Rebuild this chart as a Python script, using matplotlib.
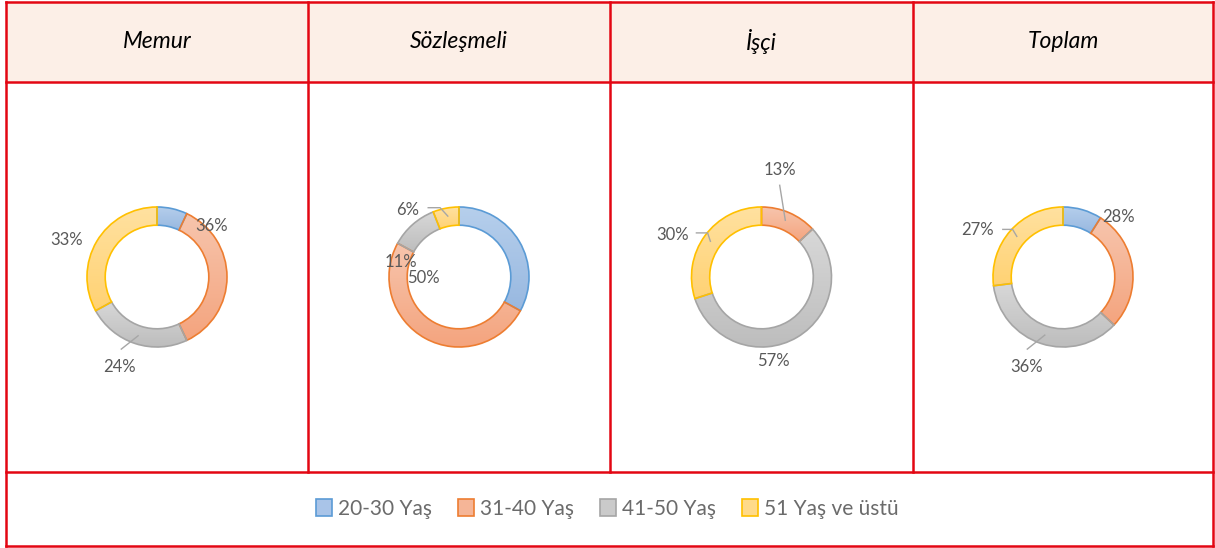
import numpy as np
import matplotlib.pyplot as plt
from matplotlib.colors import LinearSegmentedColormap
from matplotlib.patches import Patch, Rectangle

plt.rcParams['font.family'] = ['Lato', 'DejaVu Sans']

groups = ['Memur', 'Sözleşmeli', 'İşçi', 'Toplam']
ages = ['20-30 Yaş', '31-40 Yaş', '41-50 Yaş', '51 Yaş ve üstü']
memur = [7, 36, 24, 33]
sozlesmeli = [33, 50, 11, 6]
isci = [0, 13, 57, 30]
toplam = [9, 28, 36, 27]
values = [memur, sozlesmeli, isci, toplam]

fill_top = ['#b6cfec', '#f7c5ad', '#d8d8d8', '#ffe1a0']
fill_bot = ['#98b8e0', '#f4a47e', '#bdbdbd', '#ffd273']
fill_mid = ['#a9c4e8', '#f5b597', '#cacaca', '#ffda8a']
edges = ['#5b9bd5', '#ed7d31', '#a5a5a5', '#ffc000']

# label placement (radius units, donut outer radius = 1); first series is not labelled
label_pos = [
    {1: (0.78, 0.73), 2: (-0.53, -1.29), 3: (-1.29, 0.53)},
    {1: (-0.51, -0.02), 2: (-0.83, 0.21), 3: (-0.73, 0.96)},
    {1: (0.26, 1.53), 2: (0.17, -1.20), 3: (-1.27, 0.60)},
    {1: (0.79, 0.85), 2: (-0.52, -1.29), 3: (-1.22, 0.67)},
]
leaders = [
    {2: [(-0.27, -0.84), (-0.51, -1.03)]},
    {3: [(-0.44, 0.99), (-0.27, 0.99), (-0.16, 0.87)]},
    {1: [(0.26, 1.31), (0.34, 0.81)], 3: [(-0.93, 0.63), (-0.77, 0.63), (-0.73, 0.51)]},
    {2: [(-0.51, -1.03), (-0.26, -0.83)], 3: [(-0.86, 0.68), (-0.72, 0.68), (-0.66, 0.58)]},
]

W, H = 1215, 548
col_x = [6, 308, 610, 913, 1213]
row_y = [2, 82, 472, 546]
red = '#e30613'

fig = plt.figure(figsize=(W / 100, H / 100), dpi=100)
bg = fig.add_axes([0, 0, 1, 1])
bg.set_xlim(0, W)
bg.set_ylim(H, 0)
bg.axis('off')
bg.add_patch(Rectangle((col_x[0], row_y[0]), col_x[-1] - col_x[0], row_y[1] - row_y[0],
                       facecolor='#fcefe7', edgecolor='none'))
for y in row_y:
    bg.plot([col_x[0], col_x[-1]], [y, y], color=red, lw=1.8, solid_capstyle='projecting')
for i, x in enumerate(col_x):
    y_end = row_y[-1] if i in (0, len(col_x) - 1) else row_y[2]
    bg.plot([x, x], [row_y[0], y_end], color=red, lw=1.8, solid_capstyle='projecting')

r_px = 70
lim = 1.6
cy = 277
for k, name in enumerate(groups):
    cx = (col_x[k] + col_x[k + 1]) / 2
    bg.text(cx, (row_y[0] + row_y[1]) / 2, name, style='italic', fontsize=16.5,
            ha='center', va='center', color='black')

    size = 2 * lim * r_px
    ax = fig.add_axes([(cx - size / 2) / W, (H - cy - size / 2) / H, size / W, size / H])
    wedges, _ = ax.pie(values[k], startangle=90, counterclock=False,
                       wedgeprops=dict(width=0.26, linewidth=1.2))
    for j, w in enumerate(wedges):
        w.set_edgecolor(edges[j])
        w.set_facecolor('none')
        if values[k][j] == 0:
            w.set_linewidth(0)
            continue
        ext = w.get_path().get_extents()
        cmap = LinearSegmentedColormap.from_list('g', [fill_bot[j], fill_top[j]])
        grad = np.linspace(0, 1, 256).reshape(-1, 1)
        im = ax.imshow(grad, cmap=cmap, origin='lower', aspect='auto', zorder=0,
                       extent=[ext.x0, ext.x1, ext.y0, ext.y1], interpolation='bilinear')
        im.set_clip_path(w)
    for j, (lx, ly) in label_pos[k].items():
        ax.text(lx, ly, f'{values[k][j]}%', fontsize=12, color='#595959',
                ha='center', va='center')
    for j, pts in leaders[k].items():
        xs, ys = zip(*pts)
        ax.plot(xs, ys, color='#a6a6a6', lw=1.0)
    ax.set_xlim(-lim, lim)
    ax.set_ylim(-lim, lim)
    ax.set_aspect('equal')
    ax.axis('off')

handles = [Patch(facecolor=fill_mid[j], edgecolor=edges[j], linewidth=1.2) for j in range(4)]
fig.legend(handles, ages, loc='center', bbox_to_anchor=(0.5, 1 - 509 / H), ncol=4,
           frameon=False, fontsize=15, labelcolor='#6b6b6b', handlelength=0.75,
           handleheight=0.9, handletextpad=0.3, columnspacing=1.25)

fig.savefig('out.png', dpi=100)
